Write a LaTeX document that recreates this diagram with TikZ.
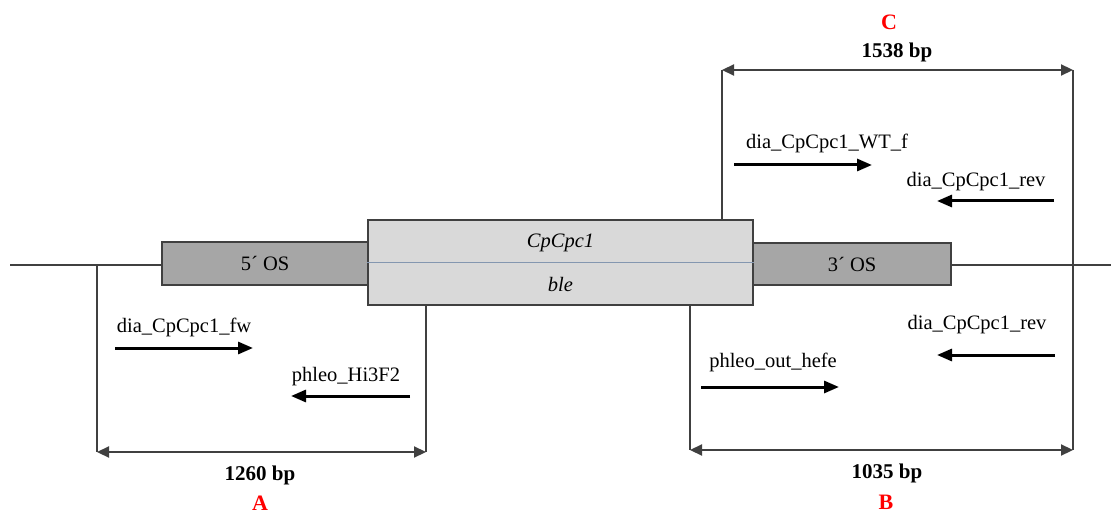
\documentclass[tikz,border=0pt]{standalone}
\usepackage{fontspec}
\setmainfont{Liberation Serif}
\usetikzlibrary{arrows.meta}
\definecolor{lineg}{HTML}{404040}
\definecolor{osfill}{HTML}{A6A6A6}
\definecolor{genefill}{HTML}{D9D9D9}
\definecolor{divline}{HTML}{8497B0}
\tikzset{
  dna/.style={draw=lineg, line width=2.2pt},
  box/.style={draw=lineg, line width=2.4pt, inner sep=0pt},
  dim/.style={draw=lineg, line width=2.2pt, {Triangle[length=12pt,width=11pt]}-{Triangle[length=12pt,width=11pt]}},
  tick/.style={draw=lineg, line width=2.2pt},
  primer/.style={draw=black, line width=3pt, -{Triangle[length=15pt,width=12pt]}},
  lab/.style={font=\fontsize{20.5}{23}\selectfont, inner sep=0pt},
  bp/.style={font=\fontsize{21}{23}\selectfont\bfseries, inner sep=0pt},
  letter/.style={font=\fontsize{22}{24}\selectfont\bfseries, text=red, inner sep=0pt}
}
\begin{document}
\begin{tikzpicture}[x=1pt,y=-1pt]
\useasboundingbox (0,0) rectangle (1111,513);
% DNA line
\coordinate (L) at (10,265);
\coordinate (R) at (1111,265);
\draw[dna] (L) -- (R);
% boxes
\node[box, fill=osfill, minimum width=206pt, minimum height=43pt] (os5) at (265,263.5) {};
\node[lab] at (os5.center) {5´ OS};
\node[box, fill=osfill, minimum width=198pt, minimum height=42pt] (os3) at (852,264) {};
\node[lab] at (os3.center) {3´ OS};
\node[box, fill=genefill, minimum width=385pt, minimum height=85pt] (gene) at (560.5,262.5) {};
\draw[divline, line width=1.2pt] (gene.west) -- (gene.east);
\node[lab, font=\fontsize{20.5}{23}\selectfont\itshape] (cp) at (560.5,243) {CpCpc1};
\node[lab, font=\fontsize{20.5}{23}\selectfont\itshape] (ble) at (560.5,284) {ble};
% A
\coordinate (A0) at (97,265);
\coordinate (A1) at (97,452);
\coordinate (A2) at (426,452);
\coordinate (A3) at (426,305);
\draw[tick] (A0) -- (A1);
\draw[tick] (A3) -- (A2);
\draw[dim] (A1) -- (A2);
\node[bp] (bpA) at (260,475) {1260 bp};
\node[letter] (lA) at (260,503) {A};
% C
\coordinate (C0) at (722,220);
\coordinate (C1) at (722,70);
\coordinate (C2) at (1073,70);
\coordinate (C3) at (1073,450);
\draw[tick] (C0) -- (C1);
\draw[tick] (C2) -- (C3);
\draw[dim] (C1) -- (C2);
\node[bp] (bpC) at (897,52) {1538 bp};
\node[letter] (lC) at (889,22) {C};
% B
\coordinate (B0) at (690,305);
\coordinate (B1) at (690,450);
\coordinate (B2) at (1073,450);
\draw[tick] (B0) -- (B1);
\draw[dim] (B1) -- (B2);
\node[bp] (bpB) at (887,473) {1035 bp};
\node[letter] (lB) at (886,502) {B};
% primers
\coordinate (p1a) at (115,348); \coordinate (p1b) at (253,348);
\draw[primer] (p1a) -- (p1b);
\node[lab] (t1) at (184,327) {dia\_CpCpc1\_fw};
\coordinate (p2a) at (410,396); \coordinate (p2b) at (291,396);
\draw[primer] (p2a) -- (p2b);
\node[lab] (t2) at (346,377) {phleo\_Hi3F2};
\coordinate (p3a) at (734,165); \coordinate (p3b) at (872,165);
\draw[primer] (p3a) -- (p3b);
\node[lab] (t3) at (827,143) {dia\_CpCpc1\_WT\_f};
\coordinate (p4a) at (1054,201); \coordinate (p4b) at (937,201);
\draw[primer] (p4a) -- (p4b);
\node[lab] (t4) at (976,182) {dia\_CpCpc1\_rev};
\coordinate (p5a) at (1055,355); \coordinate (p5b) at (937,355);
\draw[primer] (p5a) -- (p5b);
\node[lab] (t5) at (977,325) {dia\_CpCpc1\_rev};
\coordinate (p6a) at (701,387); \coordinate (p6b) at (839,387);
\draw[primer] (p6a) -- (p6b);
\node[lab] (t6) at (773,362) {phleo\_out\_hefe};
\end{tikzpicture}
\end{document}
